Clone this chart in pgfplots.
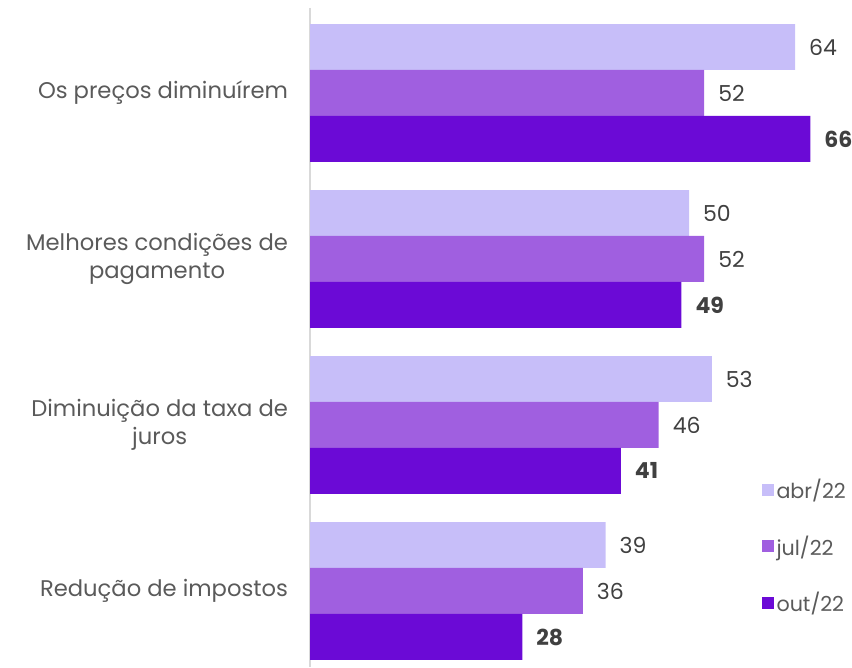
\documentclass[border=0pt]{standalone}
\usepackage{pgfplots}
\pgfplotsset{compat=1.18}
\usepackage{fontspec}
\setmainfont{Poppins}
\definecolor{cA}{HTML}{C7BEF9}
\definecolor{cB}{HTML}{A05FE0}
\definecolor{cC}{HTML}{6B0AD6}
\definecolor{txt}{HTML}{5A5A5A}
\definecolor{val}{HTML}{404040}
\begin{document}
\begin{tikzpicture}
\begin{axis}[
  at={(232.5pt,0pt)}, anchor=south west,
  scale only axis,
  width=398pt, height=494.25pt,
  xmin=0, xmax=70,
  ymin=-0.512, ymax=3.458,
  y dir=reverse,
  xbar, bar width=0.277,
  axis x line=none,
  axis y line*=left,
  y axis line style={draw=black!15, line width=1pt},
  ytick={0,1,2,3},
  yticklabels={Os preços diminuírem, Melhores condições de\\pagamento, Diminuição da taxa de\\juros, Redução de impostos},
  major tick length=0pt,
  yticklabel style={align=center, text=txt, font=\fontsize{17}{21}\selectfont, xshift=-13pt},
  /pgf/number format/assume math mode=true,
  nodes near coords,
  nodes near coords style={anchor=west, xshift=7pt, text=val, font=\fontsize{16.5}{19}\selectfont},
  legend style={draw=none, fill=none, at={(0.851,0.29)}, anchor=north west,
    font=\fontsize{15.5}{18}\selectfont, text=txt, row sep=22.5pt, inner sep=0pt,
    /tikz/every even column/.append style={column sep=2pt}},
  legend cell align=left,
  legend image code/.code={\fill[#1] (0pt,-4.5pt) rectangle (9pt,4.5pt);},
  clip=false,
]
\addplot[fill=cA, draw=none, bar shift=-0.277] coordinates {(64,0) (50,1) (53,2) (39,3)};
\addplot[fill=cB, draw=none, bar shift=0] coordinates {(52,0) (52,1) (46,2) (36,3)};
\addplot[fill=cC, draw=none, bar shift=0.277, nodes near coords style={font=\fontsize{16.5}{19}\selectfont\bfseries}] coordinates {(66,0) (49,1) (41,2) (28,3)};
\legend{abr/22, jul/22, out/22}
\end{axis}
\pgfresetboundingbox
\path (0pt,0pt) rectangle (639pt,500.25pt);
\end{tikzpicture}
\end{document}
